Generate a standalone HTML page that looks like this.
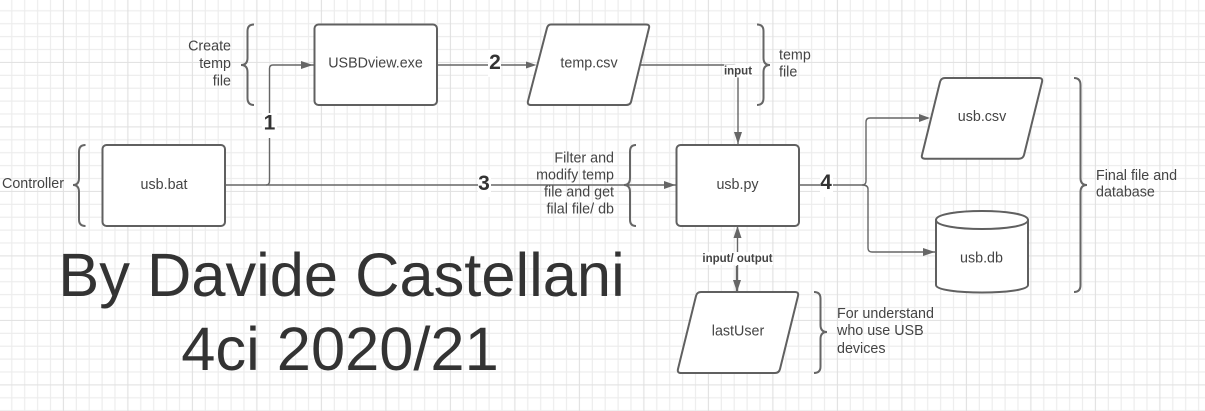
<!DOCTYPE html>
<html><head><meta charset="utf-8">
<style>html,body{margin:0;padding:0;background:#fff}svg{display:block}
text{font-family:"Liberation Sans",sans-serif;fill:#444;font-size:14.3px}
.b{font-weight:bold;font-size:21px;text-anchor:middle;fill:#333}
.s{font-weight:bold;font-size:11.5px;text-anchor:middle;fill:#444}
.c{text-anchor:middle}.r{text-anchor:end}
.box{fill:#fff;stroke:#606060;stroke-width:2;stroke-linejoin:round}
.ln{fill:none;stroke:#666;stroke-width:1.4}
.br{fill:none;stroke:#666;stroke-width:2}
.ah{fill:#666}
</style></head><body>
<svg width="1205" height="411" viewBox="0 0 1205 411" xmlns="http://www.w3.org/2000/svg">
<defs>
<pattern id="g" x="61.4" y="60.4" width="64.5" height="64.5" patternUnits="userSpaceOnUse">
<path d="M14.9 0V64.5M27.8 0V64.5M40.7 0V64.5M53.6 0V64.5M0 14.9H64.5M0 27.8H64.5M0 40.7H64.5M0 53.6H64.5" stroke="#ececec" stroke-width="1.1" fill="none"/>
<path d="M2 0V64.5M0 2H64.5" stroke="#e0e0e0" stroke-width="1.1" fill="none"/>
</pattern>
</defs>
<rect width="1205" height="411" fill="#fff"/>
<rect width="1205" height="411" fill="url(#g)"/>

<!-- connectors -->
<path class="ln" d="M226 185H676"/>
<path class="ln" d="M266 185Q269.500 185 269.500 181V68.500Q269.500 65 273 65H314"/>
<path class="ln" d="M437 65H528"/>
<path class="ln" d="M640 65H734Q738 65 738 69V145"/>
<path class="ln" d="M799 185H862Q866 185 866 181V122Q866 118 870 118H928"/>
<path class="ln" d="M862 185Q868 185 868 189V248Q868 252 872 252H935"/>
<path class="ln" d="M737.500 226V292"/>
<path class="ln" d="M736.500 266V292"/>
<polygon class="ah" points="313,65 301,61 301,69"/>
<polygon class="ah" points="536.500,65 526,61.500 526,68.500"/>
<polygon class="ah" points="738,144 734,132 742,132"/>
<polygon class="ah" points="675.500,185 664,181 664,189"/>
<polygon class="ah" points="930,118 919,114 919,122"/>
<polygon class="ah" points="935,252 923,248 923,256"/>
<polygon class="ah" points="737.500,226 733.500,238 741.500,238"/>
<polygon class="ah" points="737,292 733,280 741,280"/>

<!-- shapes -->
<rect class="box" x="102.500" y="145" width="122.500" height="81" rx="4"/>
<rect class="box" x="314.500" y="24.500" width="122.500" height="80.500" rx="4"/>
<rect class="box" x="676.500" y="145" width="122.500" height="81" rx="4"/>
<path class="box" d="M551 24.500H646Q650 24.500 649 28L631 102Q630 105 626 105H531Q527 105 528 101L547 28Q548 24.500 551 24.500Z"/>
<path class="box" d="M945 78H1039Q1043 78 1042 82L1024 155Q1023 158.700 1019 158.700H925Q921 158.700 922 155L940 82Q941 78 945 78Z"/>
<path class="box" d="M701 292H795Q799 292 798 296L780 369Q779 373 775 373H681Q677 373 678 369L696 296Q697 292 701 292Z"/>
<path class="box" d="M936 220C936 208 1028 208 1028 220V285C1028 295 936 295 936 285Z"/>
<path class="box" style="fill:none" d="M936 220C936 232 1028 232 1028 220"/>

<!-- braces -->
<path class="br" d="M254 24.500Q247.500 24.500 247.500 31V58Q247.500 65 241 65Q247.500 65 247.500 72V98Q247.500 105 254 105"/>
<path class="br" d="M85.500 145Q79 145 79 151.500V178Q79 185 73 185Q79 185 79 192V219.500Q79 226 85.500 226"/>
<path class="br" d="M636 145Q630 145 630 151.500V178Q630 185 624 185Q630 185 630 192V219.500Q630 226 636 226"/>
<path class="br" d="M757 24.500Q763.500 24.500 763.500 31V58Q763.500 65 770 65Q763.500 65 763.500 72V98Q763.500 105 757 105"/>
<path class="br" d="M1074 78Q1080.500 78 1080.500 85V178Q1080.500 185 1087 185Q1080.500 185 1080.500 192V285Q1080.500 292 1074 292"/>
<path class="br" d="M814 292Q820.500 292 820.500 298.500V325Q820.500 332 827 332Q820.500 332 820.500 339V366.500Q820.500 373 814 373"/>

<!-- labels on connectors -->
<rect x="262" y="113" width="15" height="25" fill="#fff"/>
<rect x="488" y="50" width="13" height="27" fill="#fff"/>
<rect x="478" y="170" width="13" height="27" fill="#fff"/>
<rect x="820" y="170" width="13" height="27" fill="#fff"/>
<rect x="724" y="64.500" width="28" height="13" fill="#fff"/>
<rect x="703" y="252" width="70" height="13" fill="#fff"/>
<text class="b" x="269.500" y="129.500">1</text>
<text class="b" x="495" y="69">2</text>
<text class="b" x="484" y="190">3</text>
<text class="b" x="826" y="189">4</text>
<text class="s" x="738" y="74.500">input</text>
<text class="s" x="737.500" y="262">input/ output</text>

<!-- shape text -->
<text class="c" x="164" y="189">usb.bat</text>
<text class="c" x="375.500" y="67.500">USBDview.exe</text>
<text class="c" x="589" y="67.500">temp.csv</text>
<text class="c" x="737.500" y="189">usb.py</text>
<text class="c" x="982" y="121">usb.csv</text>
<text class="c" x="981.500" y="262.500">usb.db</text>
<text class="c" x="738" y="335.500">lastUser</text>

<!-- side text -->
<text x="2" y="188">Controller</text>
<text class="r" x="231" y="50.500">Create</text>
<text class="r" x="231" y="68">temp</text>
<text class="r" x="231" y="85.500">file</text>
<text x="779" y="59.500">temp</text>
<text x="779" y="76.500">file</text>
<text class="r" x="614" y="162.500">Filter and</text>
<text class="r" x="614" y="179.500">modify temp</text>
<text class="r" x="614" y="196.500">file and get</text>
<text class="r" x="614" y="213.500">filal file/ db</text>
<text x="1096" y="180">Final file and</text>
<text x="1096" y="196.500">database</text>
<text x="837" y="318">For understand</text>
<text x="837" y="335">who use USB</text>
<text x="837" y="353">devices</text>

<text x="341.500" y="296" text-anchor="middle" style="font-size:61.4px;fill:#333">By Davide Castellani</text>
<text x="340" y="370" text-anchor="middle" style="font-size:61.4px;fill:#333">4ci 2020/21</text>
</svg>
</body></html>
